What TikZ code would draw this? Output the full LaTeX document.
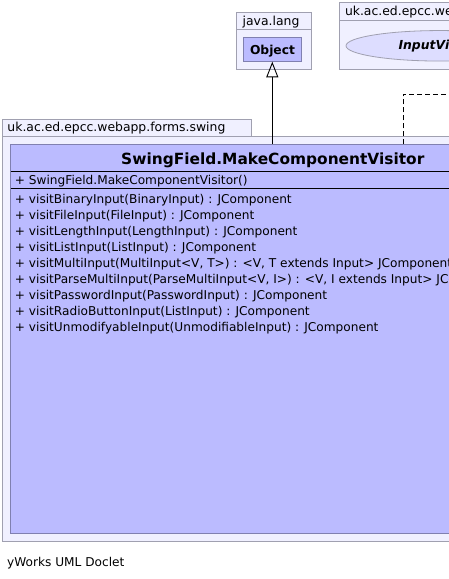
\documentclass[tikz,border=0pt]{standalone}
\usepackage{fontspec}
\setmainfont{DejaVu Sans}
\usetikzlibrary{arrows.meta,shapes.geometric}
\definecolor{pkgfill}{RGB}{240,240,255}
\definecolor{pkgline}{RGB}{160,160,176}
\definecolor{clsfill}{RGB}{187,187,255}
\definecolor{clsline}{RGB}{128,128,176}
\definecolor{ifcfill}{RGB}{221,221,255}
\tikzset{
  pkg/.style={draw=pkgline, fill=pkgfill, line width=0.8pt},
  cls/.style={draw=clsline, fill=clsfill, line width=0.8pt},
  txt/.style={inner sep=0pt, anchor=base west, font=\fontsize{12.15}{14}\selectfont},
  pkgtxt/.style={inner sep=0pt, anchor=base west, font=\fontsize{12.4}{14}\selectfont},
  inherit/.style={-{Triangle[open, width=12pt, length=15.6pt]}, line width=0.9pt, fill=white},
}
\begin{document}
\begin{tikzpicture}[x=1pt, y=-1pt]
\useasboundingbox (0,0) rectangle (449,579);
\clip (0,0) rectangle (449,579);
\fill[white] (0,0) rectangle (449,579);
% java.lang package
\draw[pkg] (236,12) rectangle (311,69);
\draw[pkgline, line width=0.8pt] (236,29.3) -- (311,29.3);
\node[pkgtxt] (jl) at (242.5,25.7) {java.lang};
\draw[cls] (243.3,37.3) rectangle (301.7,61.7);
\node[inner sep=0pt, anchor=base, font=\bfseries\fontsize{12.3}{14}\selectfont] (obj) at (272.5,54.3) {Object};
\coordinate (objS) at (272.3,61.7);
% other package
\draw[pkg] (339.3,2.7) rectangle (545,69.3);
\draw[pkgline, line width=0.8pt] (339.3,20.7) -- (545,20.7);
\node[pkgtxt] (op) at (344.8,15.7) {uk.ac.ed.epcc.webapp.forms.inputs};
\node[draw=pkgline, fill=ifcfill, ellipse, line width=0.8pt, minimum width=188pt, minimum height=30.5pt, inner sep=0pt] (ifc) at (440,45.8) {};
\node[inner sep=0pt, anchor=base, font=\bfseries\itshape\fontsize{12.4}{14}\selectfont] (ifct) at (440,49) {InputVisitor};
% swing package
\draw[pkg] (2.7,119.3) rectangle (251.7,136);
\node[pkgtxt] (sp) at (7.3,131.7) {uk.ac.ed.epcc.webapp.forms.swing};
\draw[pkg] (2.7,136) rectangle (545,541);
% class
\draw[cls] (10.7,144.3) rectangle (534.3,533.3);
\coordinate (clsTop) at (272.3,144.3);
\coordinate (clsTopR) at (403.3,144.3);
\draw[black, line width=0.8pt] (10.7,171) -- (534.3,171);
\draw[black, line width=0.8pt] (10.7,188.3) -- (534.3,188.3);
\node[inner sep=0pt, anchor=base, font=\bfseries\fontsize{15.4}{18}\selectfont] (title) at (272.8,164.3) {SwingField.MakeComponentVisitor};
\node[txt] (c0) at (14.7,184.7) {+ SwingField.MakeComponentVisitor()};
\foreach \t [count=\i] in {
  {visitBinaryInput(BinaryInput) : JComponent},
  {visitFileInput(FileInput) : JComponent},
  {visitLengthInput(LengthInput) : JComponent},
  {visitListInput(ListInput) : JComponent},
  {visitMultiInput(MultiInput<V, T>) : <V, T extends Input> JComponent},
  {visitParseMultiInput(ParseMultiInput<V, I>) : <V, I extends Input> JComponent},
  {visitPasswordInput(PasswordInput) : JComponent},
  {visitRadioButtonInput(ListInput) : JComponent},
  {visitUnmodifyableInput(UnmodifiableInput) : JComponent}}
  { \node[txt] (m\i) at (14.7,{203.3+16*(\i-1)}) {+ \t}; }
% connectors
\draw[inherit] (clsTop) -- (objS);
\coordinate (bend) at (403.3,94.3);
\coordinate (far) at (460,94.3);
\draw[line width=0.8pt, dash pattern=on 5pt off 3pt] (clsTopR) -- (bend) -- (far);
% footer
\node[txt] (foot) at (7,566) {yWorks UML Doclet};
\end{tikzpicture}
\end{document}
